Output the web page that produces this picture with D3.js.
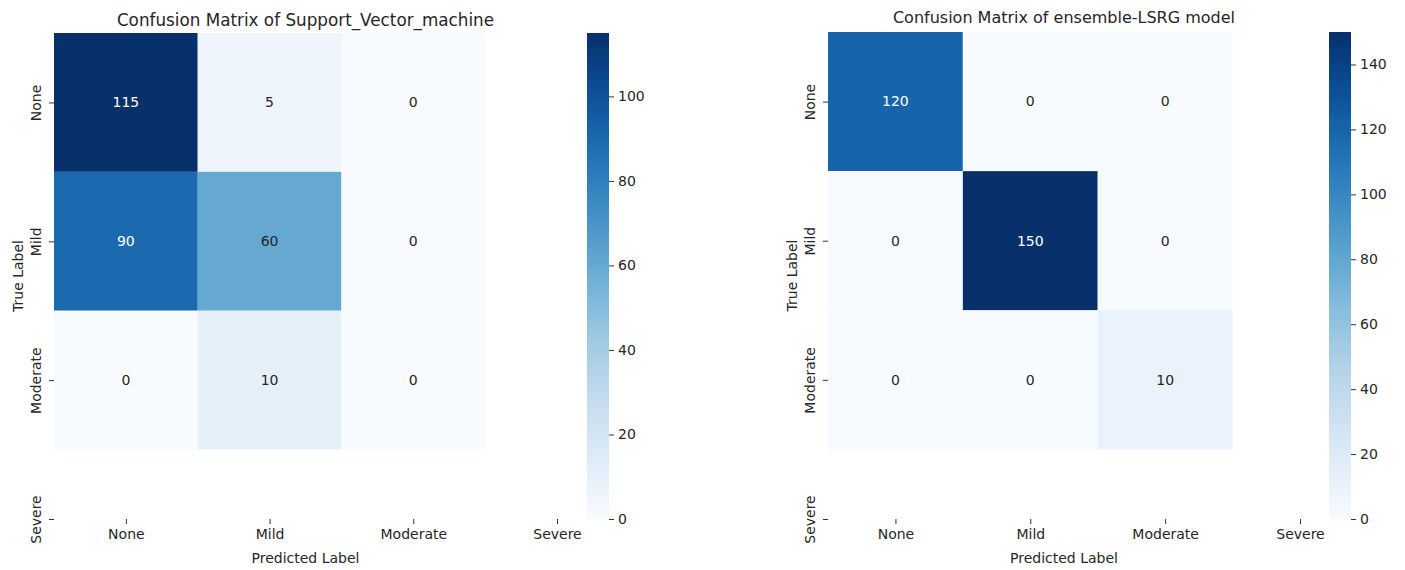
<!DOCTYPE html>
<html>
<head>
<meta charset="utf-8">
<script src="https://cdn.jsdelivr.net/npm/d3@7"></script>
<style>
  body { margin: 0; background: #fff; }
  text { font-family: "DejaVu Sans", sans-serif; fill: #262626; }
</style>
</head>
<body>
<div id="chart"></div>
<script>
// category labels used on both axes
const labels = ['None', 'Mild', 'Moderate', 'Severe'];

// confusion matrices (rows = true, cols = predicted), only 3x3 filled
const svmMatrix = [
  [115, 5, 0],
  [90, 60, 0],
  [0, 10, 0]
];
const lsrgMatrix = [
  [120, 0, 0],
  [0, 150, 0],
  [0, 0, 10]
];

const svmTitle = 'Confusion Matrix of Support_Vector_machine';
const lsrgTitle = 'Confusion Matrix of ensemble-LSRG model';
const svmMax = 115;
const lsrgMax = 150;
const svmTicks = [0, 20, 40, 60, 80, 100];
const lsrgTicks = [0, 20, 40, 60, 80, 100, 120, 140];

const svg = d3.select('#chart').append('svg')
  .attr('width', 1405)
  .attr('height', 570);

svg.append('rect').attr('width', 1405).attr('height', 570).attr('fill', '#fff');

function heatmap(opts) {
  const g = svg.append('g');
  const x = d3.scaleLinear().domain([0, 3.5]).range([opts.x0, opts.x1]);
  const y = d3.scaleLinear().domain([0, 3.5]).range([opts.y0, opts.y1]);
  const color = d3.scaleSequential(d3.interpolateBlues).domain([0, opts.vmax]);

  const cells = [];
  opts.data.forEach((row, i) => row.forEach((v, j) => cells.push({i, j, v})));

  g.selectAll('rect.cell')
    .data(cells)
    .enter()
    .append('rect')
    .attr('class', 'cell')
    .attr('x', d => x(d.j))
    .attr('y', d => y(d.i))
    .attr('width', d => x(d.j + 1) - x(d.j))
    .attr('height', d => y(d.i + 1) - y(d.i))
    .attr('fill', d => color(d.v));

  g.selectAll('text.annot')
    .data(cells)
    .enter()
    .append('text')
    .attr('class', 'annot')
    .attr('x', d => x(d.j + 0.5))
    .attr('y', d => y(d.i + 0.5))
    .attr('text-anchor', 'middle')
    .attr('dy', '0.35em')
    .style('font-size', '14px')
    .style('fill', d => {
      const c = d3.rgb(color(d.v));
      const lum = 0.2126 * c.r / 255 + 0.7152 * c.g / 255 + 0.0722 * c.b / 255;
      return lum < 0.45 ? '#ffffff' : '#262626';
    })
    .text(d => d.v);

  const ticks = labels.map((_, k) => k + 0.5);

  const xAxis = g.append('g')
    .attr('transform', `translate(0,${opts.y1})`)
    .call(d3.axisBottom(x).tickValues(ticks).tickFormat((d, k) => labels[k]).tickSize(5).tickPadding(5));
  xAxis.select('.domain').remove();
  xAxis.selectAll('text').style('font-size', '14px').attr('fill', '#262626');
  xAxis.selectAll('line').attr('stroke', '#333');

  const yAxis = g.append('g')
    .attr('transform', `translate(${opts.x0},0)`)
    .call(d3.axisLeft(y).tickValues(ticks).tickFormat((d, k) => labels[k]).tickSize(5).tickPadding(5));
  yAxis.select('.domain').remove();
  yAxis.selectAll('line').attr('stroke', '#333');
  yAxis.selectAll('text')
    .style('font-size', '14px')
    .attr('fill', '#262626')
    .attr('text-anchor', 'middle')
    .attr('x', 0)
    .attr('dy', 0)
    .attr('transform', `translate(-13,0) rotate(-90)`);

  g.append('text')
    .attr('x', (opts.x0 + opts.x1) / 2)
    .attr('y', opts.titleY)
    .attr('text-anchor', 'middle')
    .style('font-size', opts.titleSize + 'px')
    .text(opts.title);

  g.append('text')
    .attr('x', (opts.x0 + opts.x1) / 2)
    .attr('y', 563)
    .attr('text-anchor', 'middle')
    .style('font-size', '14px')
    .text('Predicted Label');

  g.append('text')
    .attr('transform', `translate(${opts.x0 - 31},${(opts.y0 + opts.y1) / 2}) rotate(-90)`)
    .attr('text-anchor', 'middle')
    .style('font-size', '14px')
    .text('True Label');

  // colorbar
  const gradId = 'grad' + opts.id;
  const grad = svg.append('defs').append('linearGradient')
    .attr('id', gradId)
    .attr('x1', 0).attr('y1', 1).attr('x2', 0).attr('y2', 0);
  d3.range(0, 1.0001, 0.05).forEach(t => {
    grad.append('stop').attr('offset', t).attr('stop-color', d3.interpolateBlues(t));
  });

  const cy = d3.scaleLinear().domain([0, opts.vmax]).range([opts.y1, opts.y0]);
  g.append('rect')
    .attr('x', opts.cbx)
    .attr('y', cy(opts.vmax))
    .attr('width', 22)
    .attr('height', cy(0) - cy(opts.vmax))
    .attr('fill', `url(#${gradId})`);

  const cAxis = g.append('g')
    .attr('transform', `translate(${opts.cbx + 22},0)`)
    .call(d3.axisRight(cy).tickValues(opts.ticks).tickSize(5).tickPadding(4));
  cAxis.select('.domain').remove();
  cAxis.selectAll('line').attr('stroke', '#333');
  cAxis.selectAll('text').style('font-size', '14px').attr('fill', '#262626');
}

heatmap({
  id: 'svm', data: svmMatrix, vmax: svmMax, ticks: svmTicks, title: svmTitle,
  x0: 54, x1: 557, y0: 33, y1: 519, cbx: 587, titleY: 26, titleSize: 16.8
});

heatmap({
  id: 'lsrg', data: lsrgMatrix, vmax: lsrgMax, ticks: lsrgTicks, title: lsrgTitle,
  x0: 828, x1: 1300, y0: 32, y1: 519, cbx: 1329, titleY: 23, titleSize: 16
});
</script>
</body>
</html>
